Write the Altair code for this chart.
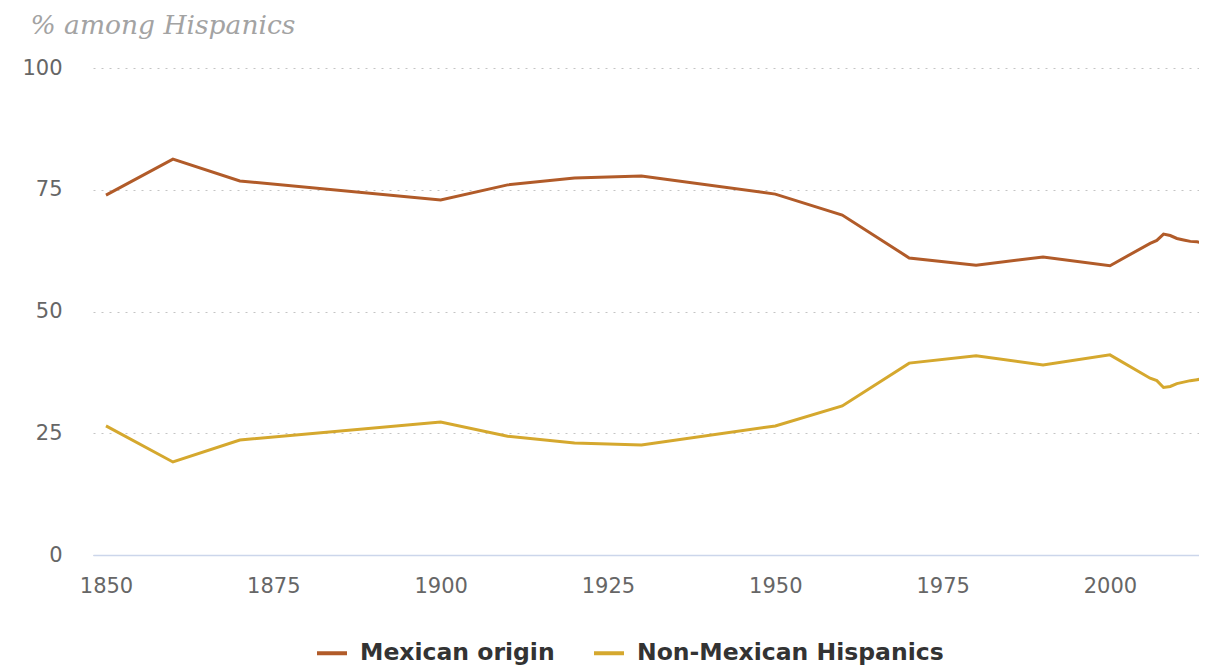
import altair as alt
import pandas as pd

# Data
years = [1850, 1860, 1870, 1900, 1910, 1920, 1930, 1950, 1960, 1970, 1980,
         1990, 2000, 2006, 2007, 2008, 2009, 2010, 2011, 2012, 2013, 2014]
mexican = [73.9, 81.3, 76.8, 72.9, 76.0, 77.4, 77.8, 74.1, 69.8, 61.0, 59.5,
           61.2, 59.4, 64.0, 64.6, 65.9, 65.6, 65.0, 64.7, 64.4, 64.3, 64.1]
non_mexican = [26.5, 19.1, 23.6, 27.3, 24.4, 23.0, 22.6, 26.5, 30.6, 39.4, 40.9,
               39.0, 41.1, 36.3, 35.8, 34.4, 34.6, 35.2, 35.5, 35.8, 36.0, 36.2]
series_names = ["Mexican origin", "Non-Mexican Hispanics"]
series_colors = ["#b15b29", "#d5a82e"]
x_ticks = [1850, 1875, 1900, 1925, 1950, 1975, 2000]
y_ticks = [0, 25, 50, 75, 100]

df = pd.DataFrame({
    "year": years + years,
    "value": mexican + non_mexican,
    "series": [series_names[0]] * len(years) + [series_names[1]] * len(years),
})

chart = alt.Chart(df).mark_line(strokeWidth=3, clip=True).encode(
    x=alt.X(
        "year:Q",
        scale=alt.Scale(domain=[1848.06, 2013.3], nice=False, zero=False),
        axis=alt.Axis(
            values=x_ticks, format="d", title=None, grid=False, ticks=False,
            domainColor="#ccd6eb", domainWidth=1.5,
            labelFont="DejaVu Sans", labelFontSize=21, labelColor="#666666",
            labelPadding=20, labelFlush=False, labelOverlap=False,
        ),
    ),
    y=alt.Y(
        "value:Q",
        scale=alt.Scale(domain=[0, 100], nice=False),
        axis=alt.Axis(
            values=y_ticks, title="% among Hispanics", titleAngle=0,
            titleAlign="left", titleBaseline="alphabetic", titleX=-63, titleY=-35,
            titleFont="DejaVu Serif", titleFontStyle="italic",
            titleFontWeight="normal", titleFontSize=26.5, titleColor="#a3a3a3",
            grid=True, gridDash=[2, 6], gridColor="#c4c4c4", gridWidth=1,
            domain=False, ticks=False,
            labelFont="DejaVu Sans", labelFontSize=21, labelColor="#666666",
            labelPadding=31,
        ),
    ),
    color=alt.Color(
        "series:N",
        scale=alt.Scale(domain=series_names, range=series_colors),
        legend=alt.Legend(
            title=None, orient="none", legendX=222, legendY=568,
            direction="horizontal", symbolType="stroke", symbolSize=900,
            symbolStrokeWidth=4, labelFont="DejaVu Sans", labelFontSize=23.5,
            labelFontWeight="bold", labelColor="#333333", labelOffset=11,
            columnPadding=31, labelLimit=0,
        ),
    ),
).properties(
    width=1106,
    height=487,
    background="white",
    autosize=alt.AutoSizeParams(type="none"),
    padding={"left": 85, "top": 60, "right": 0, "bottom": 112},
).configure_view(stroke=None)

chart.save("out.html", embed_options={"renderer": "svg", "actions": False})
